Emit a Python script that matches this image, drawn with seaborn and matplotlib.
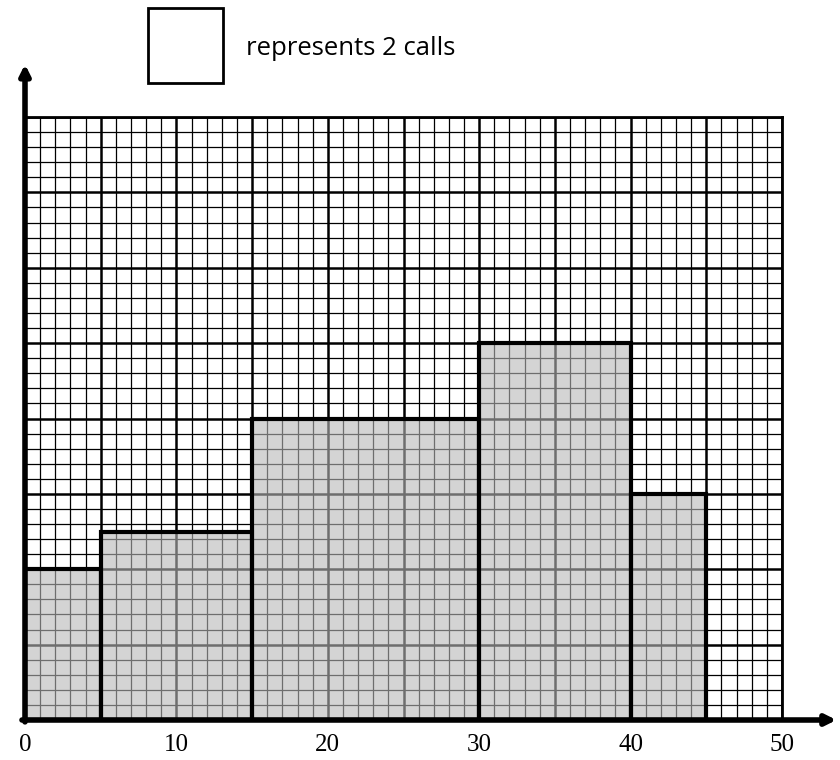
import numpy as np
import pandas as pd
import matplotlib.pyplot as plt
import seaborn as sns
from matplotlib.patches import Rectangle
from matplotlib.ticker import MultipleLocator, FuncFormatter

# histogram data: call length classes (minutes) and number of calls
class_edges = [0, 5, 15, 30, 40, 45]
calls = [4, 10, 24, 20, 6]
class_mids = [(a + b) / 2 for a, b in zip(class_edges[:-1], class_edges[1:])]
key_text = "represents 2 calls"

sns.set_style('white')

fig = plt.figure(figsize=(8.4, 7.6), dpi=100)
ax = fig.add_axes([25 / 840, 40 / 760, 757 / 840, 603 / 760])

df = pd.DataFrame({'minutes': class_mids, 'calls': calls})
# stat='frequency' -> count / bin width = frequency density
sns.histplot(data=df, x='minutes', weights='calls', bins=class_edges,
             stat='frequency', ax=ax)

for p in ax.patches:
    p.set_alpha(None)
    p.set_facecolor((0.72, 0.72, 0.72, 0.6))
    p.set_edgecolor((0, 0, 0, 1))
    p.set_linewidth(3)

ax.set_xlim(0, 50)
ax.set_ylim(0, 3.2)

# graph paper grid
ax.xaxis.set_major_locator(MultipleLocator(5))
ax.xaxis.set_minor_locator(MultipleLocator(1))
ax.yaxis.set_major_locator(MultipleLocator(0.4))
ax.yaxis.set_minor_locator(MultipleLocator(0.08))
ax.set_axisbelow(True)
ax.grid(which='major', color='black', lw=1.8)
ax.grid(which='minor', color='black', lw=0.9)

ax.xaxis.set_major_formatter(FuncFormatter(
    lambda v, pos: f"{v:.0f}" if round(v) % 10 == 0 else ""))
ax.set_yticklabels([])
ax.tick_params(which='both', length=0)
ax.tick_params(axis='x', pad=10, labelsize=18, labelcolor='black')
for lab in ax.get_xticklabels():
    lab.set_fontfamily('Liberation Serif')
ax.set_xlabel('')
ax.set_ylabel('')

for side in ['top', 'right']:
    ax.spines[side].set_color('black')
    ax.spines[side].set_linewidth(2)
for side in ['left', 'bottom']:
    ax.spines[side].set_visible(False)

# axis arrows
arrow = dict(arrowstyle='-|>', lw=4, color='black', mutation_scale=15,
             shrinkA=0, shrinkB=0)
ax.annotate('', xy=(53.6, 0), xytext=(-0.2, 0), arrowprops=arrow,
            annotation_clip=False)
ax.annotate('', xy=(0, 3.48), xytext=(0, -0.01), arrowprops=arrow,
            annotation_clip=False)

# key
ax.add_patch(Rectangle((8.1, 3.38), 5, 0.4, fill=False, ec='black', lw=2,
                       clip_on=False))
ax.text(14.62, 3.53, key_text, va='baseline', ha='left', fontsize=18.5,
        family='Open Sans', color='black')

fig.savefig('out.png', dpi=100)
